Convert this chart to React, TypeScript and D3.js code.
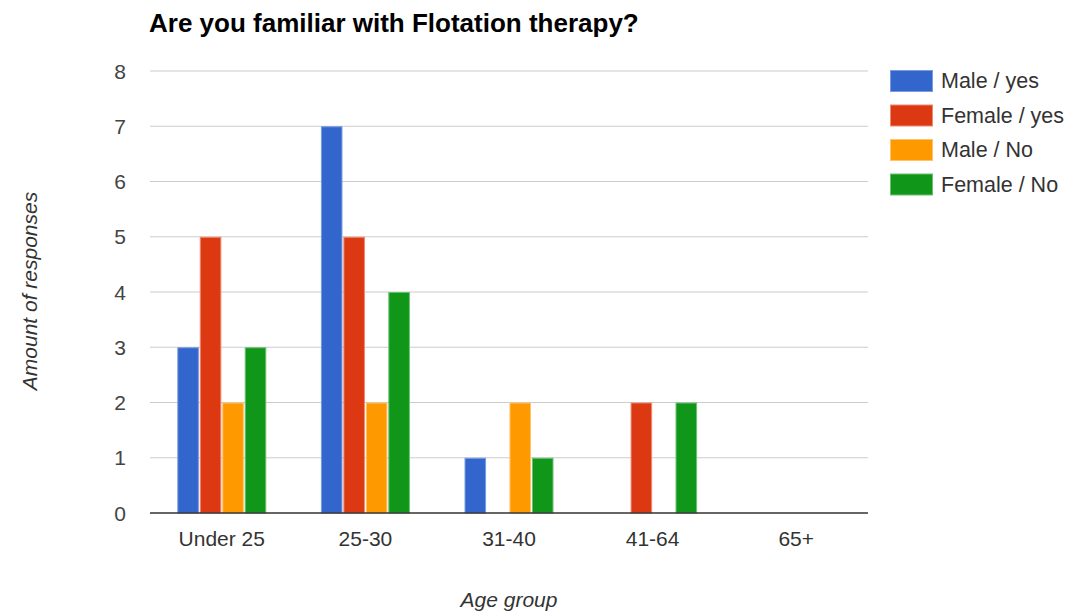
import React from "react";
import * as d3 from "d3";

const categories = ["Under 25", "25-30", "31-40", "41-64", "65+"];
const seriesNames = ["Male / yes", "Female / yes", "Male / No", "Female / No"];
const maleYes = [3, 7, 1, 0, 0];
const femaleYes = [5, 5, 0, 2, 0];
const maleNo = [2, 2, 2, 0, 0];
const femaleNo = [3, 4, 1, 2, 0];
const yTicks = [0, 1, 2, 3, 4, 5, 6, 7, 8];
const colors = ["#3366cc", "#dc3912", "#ff9900", "#109618"];
const strokes = ["#7a9be0", "#ee8a70", "#ffc36e", "#6cc072"];

export default function App() {
  const W = 1070, H = 614;
  const left = 150, right = 868, top = 71, bottom = 513;
  const series = [maleYes, femaleYes, maleNo, femaleNo];
  const x = d3.scaleBand().domain(categories).range([left, right]).paddingInner(0).paddingOuter(0);
  const y = d3.scaleLinear().domain([0, 8]).range([bottom, top]);
  const inner = d3.scaleBand().domain(seriesNames).range([0, 89]).paddingInner(0.04);
  const groupOffset = (x.bandwidth() - 89) / 2;
  const font = "'Liberation Sans', Arial, sans-serif";
  return (
    <svg width={W} height={H} style={{ position: "absolute", left: 0, top: 0, background: "#fff" }} fontFamily={font}>
      <text x={149} y={32} fontSize={26} fontWeight="bold" fill="#000">Are you familiar with Flotation therapy?</text>
      {yTicks.map((t) => (
        <g key={t}>
          {t > 0 && <line x1={left} x2={right} y1={y(t)} y2={y(t)} stroke="#cccccc" strokeWidth={1.2} />}
          <text x={126} y={y(t) + 7.5} fontSize={21} textAnchor="end" fill="#444">{t}</text>
        </g>
      ))}
      {series.map((vals, si) =>
        categories.map((c, ci) =>
          vals[ci] > 0 ? (
            <rect key={si + "-" + ci}
              x={(x(c) as number) + groupOffset + (inner(seriesNames[si]) as number) + 0.5}
              y={y(vals[ci]) + 0.5}
              width={inner.bandwidth() - 1}
              height={bottom - y(vals[ci]) - 0.5}
              fill={colors[si]} stroke={strokes[si]} strokeWidth={1} />
          ) : null
        )
      )}
      <line x1={left} x2={right} y1={bottom} y2={bottom} stroke="#333" strokeWidth={1.5} />
      {categories.map((c) => (
        <text key={c} x={(x(c) as number) + x.bandwidth() / 2} y={546} fontSize={21} textAnchor="middle" fill="#333">{c}</text>
      ))}
      <text x={509} y={607} fontSize={21} fontStyle="italic" textAnchor="middle" fill="#333">Age group</text>
      <text transform={`translate(37,${291}) rotate(-90)`} fontSize={21} fontStyle="italic" textAnchor="middle" fill="#333">Amount of responses</text>
      {seriesNames.map((n, i) => (
        <g key={n}>
          <rect x={890.5} y={70.5 + i * 34.5} width={42} height={21} fill={colors[i]} stroke={strokes[i]} strokeWidth={1} />
          <text x={941} y={88 + i * 34.5} fontSize={21.5} fill="#333">{n}</text>
        </g>
      ))}
    </svg>
  );
}
